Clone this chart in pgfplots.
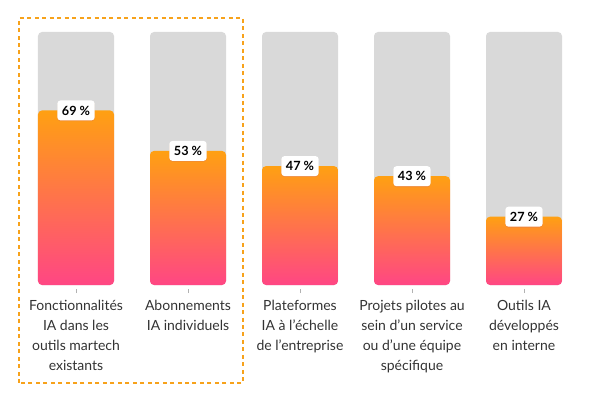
\documentclass[border=0pt]{standalone}
\usepackage{pgfplots}
\pgfplotsset{compat=1.18}
\usepackage{fontspec}
\setmainfont{Lato}
\usetikzlibrary{shadows}
\definecolor{bargrey}{HTML}{D9D9D9}
\definecolor{topor}{HTML}{FFA012}
\definecolor{botpk}{HTML}{FF4684}
\definecolor{boxor}{HTML}{F7A21B}
\definecolor{txt}{HTML}{333333}
\pgfplotsset{
  valbar/.style={ybar, bar width=57pt, bar shift=0pt, draw=none, rounded corners=3pt,
    top color=topor, bottom color=botpk,
    nodes near coords={\pgfmathprintnumber{\pgfplotspointmeta}\ \%},
    every node near coord/.append style={anchor=center, yshift=0pt, fill=white,
      rounded corners=2.5pt, inner xsep=3.5pt, inner ysep=4pt, text=black,
      font=\bfseries\fontsize{9.5}{10}\selectfont,
      drop shadow={opacity=0.15, shadow xshift=0pt, shadow yshift=-0.6pt}}},
}
\begin{document}
\begin{tikzpicture}
\useasboundingbox (0,0) rectangle (450pt,300pt);
\draw[boxor, line width=0.9pt, dash pattern=on 3pt off 2.6pt] (14.25pt,12.75pt) rectangle (182.25pt,286.5pt);
\begin{axis}[
  at={(15pt,86.25pt)}, anchor=south west,
  width=420pt, height=189.75pt, scale only axis,
  xmin=-0.5, xmax=4.5, ymin=0, ymax=100,
  axis line style={draw=none},
  ytick=\empty,
  xtick={0,1,2,3,4},
  xticklabels={Fonctionnalités\\IA dans les\\outils martech\\existants,
    Abonnements\\IA individuels,
    Plateformes\\IA à l’échelle\\de l’entreprise,
    Projets pilotes au\\sein d’un service\\ou d’une équipe\\spécifique,
    Outils IA\\développés\\en interne},
  xticklabel style={align=center, anchor=north, yshift=-5pt, text=txt,
    font=\fontsize{10.5}{15}\selectfont},
  tick align=outside,
  major tick length=3pt,
  xtick style={draw=gray!60, yshift=-3pt},
  /pgf/number format/assume math mode=true,
  clip=false,
]
\addplot[ybar, bar width=57pt, bar shift=0pt, fill=bargrey, draw=none, rounded corners=3pt]
  coordinates {(0,100) (1,100) (2,100) (3,100) (4,100)};
\addplot[valbar] coordinates {(0,69)};
\addplot[valbar] coordinates {(1,53)};
\addplot[valbar] coordinates {(2,47)};
\addplot[valbar] coordinates {(3,43)};
\addplot[valbar] coordinates {(4,27)};
\end{axis}
\end{tikzpicture}
\end{document}
